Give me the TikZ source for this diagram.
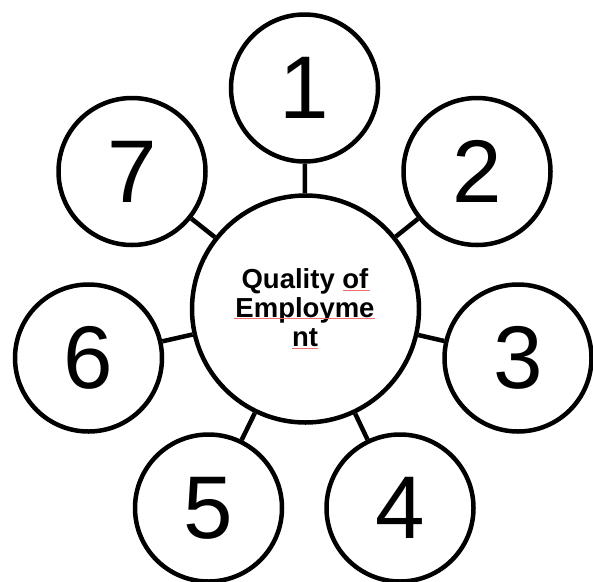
\documentclass[tikz,border=0pt]{standalone}
\usepackage{fontspec}
\setmainfont{Liberation Sans}
\begin{document}
\begin{tikzpicture}[x=1pt,y=-1pt,
  ring/.style={circle,draw=black,line width=4.5pt,minimum size=147pt,inner sep=0pt,fill=white,
    font=\fontsize{89}{90}\selectfont},
  hub/.style={circle,draw=black,line width=4.5pt,minimum size=227pt,inner sep=0pt,fill=white},
  link/.style={draw=black,line width=4.5pt},
  label/.style={anchor=base,inner sep=0pt,font=\fontsize{27.5}{30}\bfseries\selectfont},
  spell/.style={draw={rgb,255:red,240;green,110;blue,110},line width=0.9pt}]
\useasboundingbox (0,0) rectangle (593,581);
\node[hub] (c) at (305.5,309) {};
\node[ring] (n1) at (304.5,88) {1};
\node[ring] (n2) at (477,171.5) {2};
\node[ring] (n3) at (518,358) {3};
\node[ring] (n4) at (400,508) {4};
\node[ring] (n5) at (208.5,508) {5};
\node[ring] (n6) at (88.5,358) {6};
\node[ring] (n7) at (132,171.5) {7};
\foreach \n in {n1,n2,n3,n4,n5,n6,n7} \draw[link] (c) -- (\n);
\node[label] (t1) at (305,288) {Quality of};
\node[label] (t2) at (305,317) {Employme};
\node[label] (t3) at (305,346.5) {nt};
\draw[spell] (343,290) -- (370,290);
\draw[spell] (234,318.5) -- (375,318.5);
\draw[spell] (292,348) -- (318,348);
\end{tikzpicture}
\end{document}
